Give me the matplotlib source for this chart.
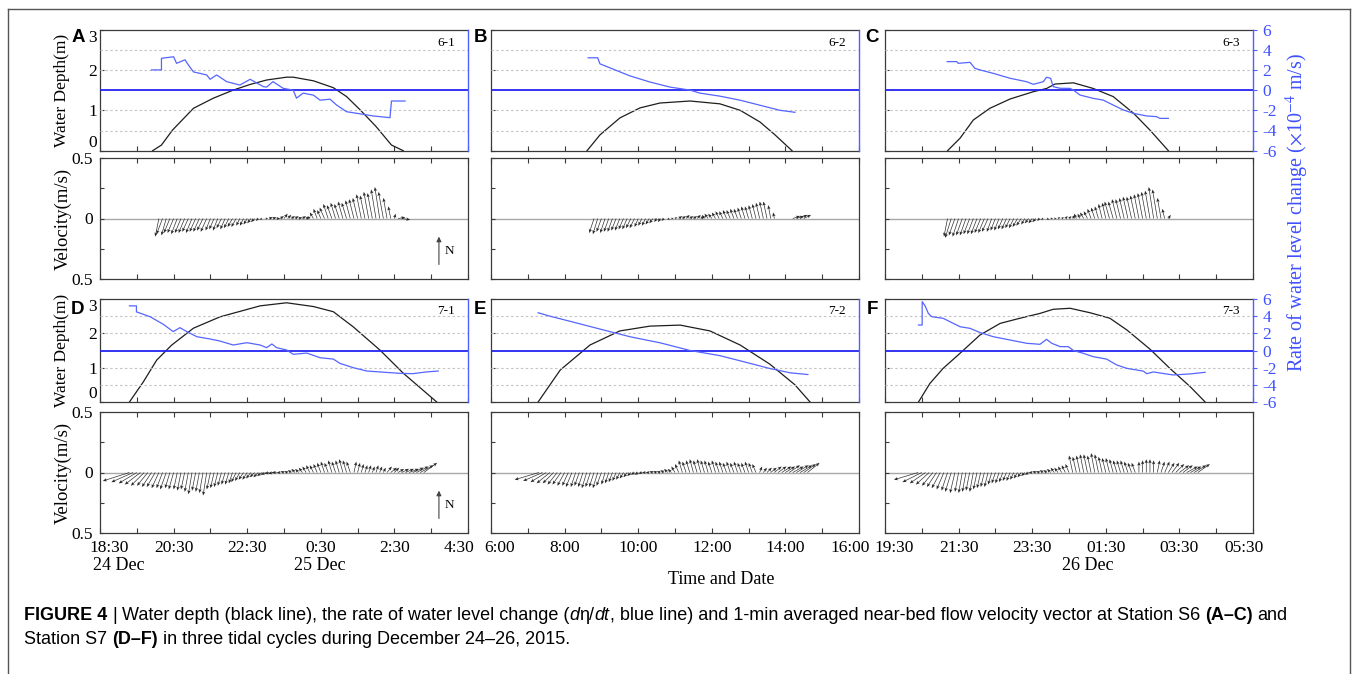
import numpy as np
import matplotlib
matplotlib.use("Agg")
import matplotlib.pyplot as plt
import matplotlib.transforms as mtrans
from matplotlib.ticker import FixedLocator
from matplotlib.lines import Line2D

nan = np.nan

# ---------------------------------------------------------------- data
PANEL_LETTERS = ["A", "B", "C", "D", "E", "F"]
CYCLE_NAMES = ["6-1", "6-2", "6-3", "7-1", "7-2", "7-3"]
TIME_TICKS = [0, 2, 4, 6, 8, 10]          # hours after axis start
TIME_MINOR = [1, 3, 5, 7, 9]
TICK_LABELS = [
    ["18:30", "20:30", "22:30", "0:30", "2:30", "4:30"],
    ["6:00", "8:00", "10:00", "12:00", "14:00", "16:00"],
    ["19:30", "21:30", "23:30", "01:30", "03:30", "05:30"],
]
DATE_LABELS = ["24 Dec", "25 Dec", "26 Dec"]
DEPTH_TICKS = [0, 1, 2, 3]
RATE_TICKS = [-6, -4, -2, 0, 2, 4, 6]
VEL_TICKS = [-0.5, 0, 0.5]
VEL_TICK_LABELS = ["0.5", "0", "0.5"]

# water depth (m) vs hours after axis start
DEPTH_T_A = [1.43, 1.67, 1.97, 2.54, 3.08, 3.62, 4.08, 4.53, 5.07, 5.25, 5.80, 6.34, 6.70, 7.07, 7.50, 7.92, 8.24]
DEPTH_A = [0.00, 0.14, 0.51, 1.05, 1.30, 1.50, 1.64, 1.75, 1.82, 1.82, 1.73, 1.56, 1.34, 1.01, 0.60, 0.14, 0.00]
DEPTH_T_B = [2.61, 2.96, 3.50, 4.05, 4.59, 5.41, 6.22, 6.77, 7.31, 7.72, 8.18]
DEPTH_B = [0.00, 0.39, 0.81, 1.06, 1.18, 1.23, 1.16, 1.00, 0.71, 0.39, 0.00]
DEPTH_T_C = [1.70, 2.04, 2.40, 2.85, 3.40, 4.03, 4.39, 4.62, 5.12, 5.66, 6.20, 6.75, 7.20, 7.70]
DEPTH_C = [0.00, 0.31, 0.76, 1.05, 1.28, 1.46, 1.54, 1.65, 1.68, 1.54, 1.34, 0.93, 0.51, 0.00]
DEPTH_T_D = [0.80, 1.18, 1.54, 1.95, 2.54, 3.26, 4.35, 5.07, 5.80, 6.34, 6.88, 7.61, 8.24, 9.15]
DEPTH_D = [0.00, 0.59, 1.22, 1.66, 2.15, 2.48, 2.80, 2.89, 2.78, 2.63, 2.19, 1.51, 0.84, 0.00]
DEPTH_T_E = [1.28, 1.88, 2.69, 3.50, 4.32, 5.14, 5.95, 6.77, 7.58, 8.26, 8.67]
DEPTH_E = [0.00, 0.93, 1.66, 2.07, 2.21, 2.24, 2.07, 1.66, 1.10, 0.50, 0.00]
DEPTH_T_F = [0.91, 1.22, 1.58, 2.04, 2.58, 3.13, 3.67, 4.21, 4.57, 5.03, 5.57, 6.11, 6.57, 7.20, 7.74, 8.29, 8.70]
DEPTH_F = [0.00, 0.54, 0.98, 1.42, 1.95, 2.29, 2.44, 2.58, 2.70, 2.73, 2.60, 2.44, 2.10, 1.54, 0.98, 0.45, 0.00]

# rate of water level change (1e-4 m/s)
RATE_T_A = [1.40, 1.67, 1.67, 2.00, 2.08, 2.31, 2.40, 2.54, 2.90, 2.99, 3.17, 3.44, 3.80, 4.08, 4.44, 4.53,
            4.70, 4.98, 5.25, 5.34, 5.52, 5.80, 5.98, 6.25, 6.43, 6.70, 6.98, 7.16, 7.42, 7.88, 7.92, 8.29]
RATE_A = [2.00, 2.00, 3.15, 3.30, 2.65, 3.00, 2.50, 1.80, 1.50, 1.07, 1.50, 0.84, 0.50, 1.07, 0.34, 0.30,
          0.84, 0.17, 0.00, -0.80, -0.30, -0.50, -1.00, -0.90, -1.48, -2.14, -2.30, -2.40, -2.56, -2.73, -1.08, -1.08]
RATE_T_B = [2.64, 2.90, 2.96, 3.37, 3.78, 4.32, 4.86, 5.41, 5.68, 6.22, 6.77, 7.31, 7.85, 8.26]
RATE_B = [3.2, 3.2, 2.6, 2.0, 1.4, 0.8, 0.3, 0.0, -0.3, -0.6, -1.0, -1.5, -2.0, -2.2]
RATE_T_C = [1.69, 1.95, 1.99, 2.31, 2.44, 2.58, 2.94, 3.40, 3.85, 4.03, 4.30, 4.39, 4.50, 4.57,
            4.76, 5.03, 5.12, 5.30, 5.66, 5.93, 6.20, 6.48, 6.75, 7.11, 7.38, 7.47, 7.70]
RATE_C = [2.82, 2.82, 2.65, 2.75, 2.16, 2.00, 1.66, 1.17, 0.83, 0.57, 0.83, 1.27, 1.17, 0.34,
          0.18, 0.17, 0.00, -0.49, -0.82, -0.99, -1.48, -1.97, -2.30, -2.56, -2.63, -2.80, -2.80]
RATE_T_D = [0.80, 0.99, 0.99, 1.36, 1.72, 1.99, 2.17, 2.36, 2.63, 2.99, 3.26, 3.62, 3.99, 4.35, 4.53,
            4.67, 4.80, 5.07, 5.25, 5.62, 5.98, 6.34, 6.52, 6.88, 7.25, 7.61, 8.15, 8.50, 8.86, 9.19]
RATE_D = [5.2, 5.2, 4.5, 3.94, 3.05, 2.2, 2.66, 2.2, 1.61, 1.34, 1.1, 0.64, 0.91, 0.64, 0.33,
          0.76, 0.33, 0.06, -0.44, -0.3, -0.84, -1.0, -1.5, -2.0, -2.39, -2.5, -2.66, -2.7, -2.5, -2.39]
RATE_T_E = [1.28, 1.60, 2.15, 2.96, 3.78, 4.59, 5.41, 5.68, 6.22, 6.77, 7.58, 8.13, 8.61]
RATE_E = [4.4, 4.0, 3.4, 2.5, 1.6, 0.9, 0.0, -0.2, -0.6, -1.2, -2.1, -2.6, -2.8]
RATE_T_F = [0.91, 1.01, 1.01, 1.09, 1.18, 1.27, 1.58, 2.04, 2.31, 2.58, 2.94, 3.40, 3.85, 4.21, 4.39,
            4.53, 4.76, 4.98, 5.12, 5.39, 5.66, 6.02, 6.30, 6.57, 7.02, 7.11, 7.29, 7.83, 8.29, 8.70]
RATE_F = [2.97, 2.97, 5.69, 5.2, 4.3, 3.94, 3.75, 2.77, 2.58, 2.1, 1.61, 1.22, 0.84, 0.72, 1.3,
          0.84, 0.45, 0.45, 0.0, -0.33, -0.72, -1.0, -1.69, -2.08, -2.4, -2.7, -2.5, -2.85, -2.73, -2.54]

# near-bed velocity vectors (cm/s), one every 0.1 h starting at VEL_T0
VEL_DT = 0.1
VEL_T0 = [1.6, 2.8, 1.7, 0.8, 1.3, 0.9]
VEL_V_A = [-15, -13, -14, -12, -12, -13, -12, -12, -11, -12,
           -11, -11, -10, -11, -10, -9, -10, -8, -9, -8,
           -7, -7, -6, -6, -5, -4, -3, -2, -1, 0,
           1, 1, 0, 2, 4, 3, 2, 2, 1, 2,
           1, 2, 5, 8, 7, 9, 12, 11, 13, 12,
           14, 13, 15, 16, 17, 20, 19, 22, 21, 24,
           26, 22, 17, 10, 4, 1, -1]
VEL_U_A = [-3, -5, -4, -5, -5, -5, -5, -5, -5, -5,
           -5, -5, -5, -5, -4, -4, -4, -4, -4, -4,
           -4, -4, -3, -3, -3, -3, -3, -2, -2, 2,
           3, 3, 3, 3, 3, 3, 3, 3, 3, 3,
           3, -2, -3, -3, -3, -4, -4, -4, -4, -4,
           -4, -4, -4, -4, -4, -4, -4, -4, -4, -4,
           -4, -4, -3, -2, 1, 6, 7]
VEL_V_B = [-12, -13, -11, -12, -11, -11, -10, -10, -9, -9,
           -8, -8, -7, -6, -6, -5, -4, -3, -3, -2,
           -1, 0, 1, 2, 2, 3, 2, 2, 3, 2,
           3, 4, 4, 5, 6, 6, 7, 7, 8, 8,
           9, 10, 10, 11, 12, 13, 14, 14, 11, 5,
           nan, nan, nan, nan, 2, 2, 3, 3]
VEL_U_B = [-4, -4, -4, -4, -4, -4, -4, -4, -4, -4,
           -4, -4, -3, -3, -3, -3, -3, -2, -2, -2,
           2, 2, 2, 3, 3, 3, 3, 3, 3, 3,
           -2, -3, -3, -3, -3, -3, -3, -3, -3, -3,
           -3, -3, -3, -3, -3, -3, -3, -3, -2, -1,
           nan, nan, nan, nan, 6, 6, 6, 6]
VEL_V_C = [-15, -16, -14, -15, -14, -14, -13, -13, -13, -12,
           -12, -11, -11, -10, -10, -9, -9, -8, -8, -7,
           -6, -5, -4, -4, -3, -2, -1, -1, 0, 0,
           1, 1, 2, 2, 3, 4, 4, 5, 6, 8,
           9, 10, 12, 13, 14, 14, 16, 16, 17, 18,
           18, 19, 20, 21, 22, 23, 26, 24, 17, 8,
           3]
VEL_U_C = [-3, -5, -5, -5, -5, -5, -5, -5, -5, -5,
           -5, -5, -4, -4, -4, -4, -4, -4, -4, -4,
           -4, -3, -3, -3, -3, -2, -2, 2, 2, 2,
           2, 2, 2, 2, 2, -2, -2, -3, -3, -3,
           -3, -3, -3, -3, -4, -4, -4, -4, -4, -4,
           -4, -4, -4, -4, -4, -4, -4, -4, -3, -2,
           2]
VEL_V_D = [-7, -8, -9, -10, -11, -11, -12, -12, -13, -13,
           -14, -13, -14, -14, -15, -14, -16, -18, -15, -16,
           -17, -19, -14, -13, -12, -11, -10, -10, -9, -8,
           -7, -6, -6, -5, -4, -4, -3, -2, -1, -1,
           0, 0, 1, 1, 2, 3, 3, 4, 5, 6,
           6, 7, 8, 9, 8, 10, 9, 10, 11, 10,
           9, 9, 8, 7, 6, 6, 5, 6, 5, 4,
           5, 4, 4, 3, 3, 3, 3, 4, 5, 6,
           8]
VEL_U_D = [-22, -18, -15, -13, -11, -9, -8, -7, -6, -5,
           -5, -4, -4, -3, -3, -3, -3, -3, -3, -3,
           -3, -3, -3, -3, -3, -3, -3, -3, -3, -4,
           -4, -4, -4, -4, -4, -4, -4, -4, -4, -4,
           -4, -3, -3, -3, -3, -3, -3, -3, -3, -3,
           -3, -3, -3, -3, -3, -3, -3, -3, -3, -3,
           -3, 2, 2, 2, 2, 2, 2, 2, 2, 2,
           4, 5, 4, 5, 6, 7, 8, 9, 10, 11,
           11]
VEL_V_E = [-6, -7, -8, -9, -9, -10, -10, -11, -11, -12,
           -12, -11, -12, -13, -12, -12, -13, -11, -10, -9,
           -8, -7, -6, -5, -4, -3, -2, -2, -1, 0,
           0, 1, 1, 1, 2, 3, 3, 5, 7, 10,
           9, 10, 11, 10, 11, 10, 10, 9, 10, 9,
           9, 8, 9, 8, 9, 8, 8, 9, 8, 7,
           5, 4, 4, 4, 5, 5, 5, 5, 6, 5,
           6, 6, 7, 8]
VEL_U_E = [-20, -16, -13, -11, -9, -8, -7, -6, -5, -5,
           -4, -4, -4, -4, -4, -4, -4, -4, -3, -3,
           -3, -3, -3, -3, -3, -3, -3, -3, -3, -3,
           -3, -3, -3, -3, -3, -3, -3, -3, -3, -3,
           -3, -3, -3, -3, -3, -3, -3, -3, -3, -3,
           -3, -3, -3, -3, -3, -3, -3, -3, -3, -3,
           2, 3, 4, 5, 6, 7, 8, 8, 9, 9,
           10, 10, 10, 10]
VEL_V_F = [-6, -8, -9, -10, -11, -12, -13, -14, -15, -16,
           -17, -16, -17, -16, -15, -16, -14, -13, -12, -12,
           -10, -9, -9, -8, -7, -7, -6, -5, -4, -3,
           -2, 0, 1, 1, 2, 2, 3, 4, 4, 5,
           6, 7, 14, 13, 14, 15, 15, 14, 16, 15,
           13, 12, 12, 11, 10, 10, 10, 9, 8, 8,
           9, 10, 11, 11, 10, 10, 9, 9, 8, 8,
           7, 6, 6, 5, 5, 6, 7]
VEL_U_F = [-20, -16, -13, -11, -9, -8, -7, -6, -5, -5,
           -4, -3, -3, -3, -3, -3, -3, -3, -3, -3,
           -3, -3, -3, -3, -3, -3, -3, -3, -3, -3,
           -3, -3, -3, -3, -3, -3, -3, -3, -3, -3,
           -3, -3, -3, -3, -3, -3, -3, -3, -3, -3,
           -3, -3, -3, -3, -3, -3, -3, -3, -3, -3,
           0, 0, 0, 0, 0, 2, 3, 4, 5, 6,
           7, 8, 8, 9, 9, 10, 10]

DEPTH_T = [DEPTH_T_A, DEPTH_T_B, DEPTH_T_C, DEPTH_T_D, DEPTH_T_E, DEPTH_T_F]
DEPTH = [DEPTH_A, DEPTH_B, DEPTH_C, DEPTH_D, DEPTH_E, DEPTH_F]
RATE_T = [RATE_T_A, RATE_T_B, RATE_T_C, RATE_T_D, RATE_T_E, RATE_T_F]
RATE = [RATE_A, RATE_B, RATE_C, RATE_D, RATE_E, RATE_F]
VEL_V = [VEL_V_A, VEL_V_B, VEL_V_C, VEL_V_D, VEL_V_E, VEL_V_F]
VEL_U = [VEL_U_A, VEL_U_B, VEL_U_C, VEL_U_D, VEL_U_E, VEL_U_F]

CAPTION_1 = [("FIGURE 4", "bold", "normal", True), ("|", "normal", "normal", True),
             ("Water depth (black line), the rate of water level change (", "normal", "normal", False),
             ("d", "normal", "italic", False), ("η/", "normal", "normal", False),
             ("dt", "normal", "italic", False),
             (", blue line) and 1-min averaged near-bed flow velocity vector at Station S6", "normal", "normal", True),
             ("(A–C)", "bold", "normal", True), ("and", "normal", "normal", False)]
CAPTION_2 = [("Station S7", "normal", "normal", True), ("(D–F)", "bold", "normal", True),
             ("in three tidal cycles during December 24–26, 2015.", "normal", "normal", False)]

# ---------------------------------------------------------------- style
plt.rcParams["font.family"] = ["Liberation Serif", "DejaVu Serif"]
plt.rcParams["mathtext.fontset"] = "stix"
plt.rcParams["axes.unicode_minus"] = False

W, H = 1358, 674
fig = plt.figure(figsize=(W / 100, H / 100), dpi=100)

SPINE = "#3a3a3a"
BLUE_ZERO = "#2424f0"
BLUE_LINE = "#5565ff"
BLUE_SPINE = "#5060ff"
BLUE_TEXT = "#3f50ff"
KX = 121.0 / 36.8   # hours of x-offset per m/s (equal pixel scale)
TICK_FS = 12.5

COL_X = [100, 491, 885]
LETTER_DX = [-22, -11, -13]
AX_W = 368
ROW_Y = [(29.5, 150.7, 158, 279), (299, 402, 412, 533)]
EDGE_SHIFT = 0.24   # hours: first / last time labels pushed inwards


def add_ax(x0, y0, x1, y1):
    return fig.add_axes([x0 / W, 1 - y1 / H, (x1 - x0) / W, (y1 - y0) / H])


def style_spines(ax):
    for s in ax.spines.values():
        s.set_color(SPINE)
        s.set_linewidth(0.9)


for i in range(6):
    r, c = divmod(i, 3)
    x0 = COL_X[c]
    yt0, yt1, yv0, yv1 = ROW_Y[r]

    # ---------------- depth + rate panel
    axt = add_ax(x0, yt0, x0 + AX_W, yt1)
    style_spines(axt)
    axt.spines["right"].set_visible(False)
    axt.set_xlim(0, 10)
    axt.set_ylim(0, 3)
    axt.set_xticks(range(0, 11))
    axt.tick_params(axis="x", direction="in", length=3.5, width=0.8, color=SPINE,
                    bottom=True, top=False, labelbottom=False)
    axt.set_yticks(DEPTH_TICKS)
    axt.tick_params(axis="y", direction="in", length=3, width=0.8, color=SPINE,
                    left=True, right=False, labelleft=(c == 0), labelsize=TICK_FS, pad=2)
    if c == 0:
        labs = axt.get_yticklabels()
        labs[0].set_va("bottom")
        labs[-1].set_va("top")
    axt.plot(DEPTH_T[i], DEPTH[i], color="#1e1e1e", lw=0.9, zorder=3)
    axt.text(0.965, 0.885, CYCLE_NAMES[i], transform=axt.transAxes, ha="right",
             va="center", fontsize=9.5)

    ax2 = axt.twinx()
    ax2.set_ylim(-6, 6)
    for s in ["left", "top", "bottom"]:
        ax2.spines[s].set_visible(False)
    ax2.spines["right"].set_color(BLUE_SPINE)
    ax2.spines["right"].set_linewidth(1.0)
    ax2.set_yticks(RATE_TICKS)
    if c == 2:
        ax2.tick_params(axis="y", direction="out", length=3, color=BLUE_SPINE,
                        labelcolor=BLUE_TEXT, labelsize=TICK_FS, pad=4)
    else:
        ax2.tick_params(axis="y", right=False, labelright=False)
    for g in RATE_TICKS[1:-1]:
        if g != 0:
            ax2.axhline(g, color="#c4c4c4", lw=0.8, ls=(0, (2.2, 2.2)), zorder=0)
    ax2.axhline(0, color=BLUE_ZERO, lw=1.3, zorder=2)
    ax2.plot(RATE_T[i], RATE[i], color=BLUE_LINE, lw=0.9, zorder=3)

    # ---------------- velocity panel
    axv = add_ax(x0, yv0, x0 + AX_W, yv1)
    style_spines(axv)
    axv.set_xlim(0, 10)
    axv.set_ylim(-0.5, 0.5)
    axv.axhline(0, color="#a8a8a8", lw=1.0, zorder=1)
    axv.xaxis.set_major_locator(FixedLocator(TIME_TICKS))
    axv.xaxis.set_minor_locator(FixedLocator(TIME_MINOR))
    axv.tick_params(axis="x", which="both", direction="in", top=True, bottom=True,
                    length=3.5, width=0.8, color=SPINE, labelbottom=False)
    if r == 1:
        bt = mtrans.blended_transform_factory(axv.transData, axv.transAxes)
        for k, (tv, lab) in enumerate(zip(TIME_TICKS, TICK_LABELS[c])):
            dx = EDGE_SHIFT if k == 0 else (-EDGE_SHIFT if k == len(TIME_TICKS) - 1 else 0.0)
            axv.text(tv + dx, -0.125, lab, transform=bt, ha="center", va="center",
                     fontsize=TICK_FS, clip_on=False)
    axv.yaxis.set_major_locator(FixedLocator(VEL_TICKS))
    axv.yaxis.set_minor_locator(FixedLocator([-0.25, 0.25]))
    axv.set_yticklabels(VEL_TICK_LABELS)
    axv.tick_params(axis="y", which="both", direction="in", left=True, right=False,
                    length=3, width=0.8, color=SPINE, labelsize=TICK_FS, pad=5,
                    labelleft=(c == 0))

    v = np.asarray(VEL_V[i], float) / 100.0
    u = np.asarray(VEL_U[i], float) / 100.0
    n = min(len(u), len(v))
    u, v = u[:n], v[:n]
    t = VEL_T0[i] + VEL_DT * np.arange(n)
    ok = ~(np.isnan(u) | np.isnan(v))
    axv.quiver(t[ok], np.zeros(ok.sum()), u[ok] * KX, v[ok], angles="xy",
               scale_units="xy", scale=1, color="#2a2a2a", width=0.0018,
               headwidth=5, headlength=6, headaxislength=5, zorder=3)

    if c == 0:
        axv.annotate("", xy=(0.921, -0.15), xytext=(0.921, -0.38),
                     xycoords=("axes fraction", "data"),
                     arrowprops=dict(arrowstyle="-|>", lw=0.8, color="#444",
                                     mutation_scale=7, shrinkA=0, shrinkB=0))
        nt = mtrans.blended_transform_factory(axv.transAxes, axv.transData)
        axv.text(0.948, -0.27, "N", transform=nt, ha="center", va="center", fontsize=9.5)

    # panel letter
    fig.text((x0 + LETTER_DX[c]) / W, 1 - (yt0 + 8 if r == 0 else yt0 + 10) / H,
             PANEL_LETTERS[i], family=["Liberation Sans", "DejaVu Sans"],
             fontweight="bold", fontsize=13.5, ha="center", va="center")

# axis titles
for yc in [(29.5 + 150.7) / 2, (299 + 402) / 2]:
    fig.text(62 / W, 1 - yc / H, "Water Depth(m)", rotation=90, ha="center",
             va="center", fontsize=12.5)
for yc in [(158 + 279) / 2, (412 + 533) / 2]:
    fig.text(63 / W, 1 - yc / H, "Velocity(m/s)", rotation=90, ha="center",
             va="center", fontsize=13.5)
fig.text(1297 / W, 1 - 212 / H, r"Rate of water level change ($\times$10$^{-4}$ m/s)",
         rotation=90, ha="center", va="center", fontsize=14.5, color=BLUE_TEXT)
fig.text(721 / W, 1 - 579 / H, "Time and Date", ha="center", va="center", fontsize=13)
fig.text(119 / W, 1 - 565 / H, DATE_LABELS[0], ha="center", va="center", fontsize=13)
fig.text(320 / W, 1 - 565 / H, DATE_LABELS[1], ha="center", va="center", fontsize=13)
fig.text(1088 / W, 1 - 565 / H, DATE_LABELS[2], ha="center", va="center", fontsize=13)

# outer frame
for xs, ys in [([8, 8], [9, 680]), ([1350, 1350], [9, 680]), ([8, 1350], [9, 9])]:
    fig.add_artist(Line2D([x / W for x in xs], [1 - y / H for y in ys],
                          transform=fig.transFigure, color="#555555", lw=1.0))

# caption (rich text)
CAP_FAM = ["Liberation Sans Narrow", "Liberation Sans", "DejaVu Sans"]
renderer = fig.canvas.get_renderer()


def measure(s, weight, style, size):
    t = fig.text(0, 0, s, fontsize=size, fontweight=weight, fontstyle=style, family=CAP_FAM)
    w = t.get_window_extent(renderer).width
    t.remove()
    return w


def rich_line(x_px, y_px, parts, size, draw=True):
    sp = measure("x x", "normal", "normal", size) - measure("xx", "normal", "normal", size)
    x = x_px
    for s, weight, style, space in parts:
        w = measure(s, weight, style, size)
        if draw:
            fig.text(x / W, 1 - y_px / H, s, fontsize=size, fontweight=weight,
                     fontstyle=style, family=CAP_FAM, ha="left", va="baseline")
        x += w + (sp if space else 0.0)
    return x - x_px


cap_size = 10.5
w1 = rich_line(24, 620, CAPTION_1, cap_size, draw=False)
if w1 > 0:
    cap_size = cap_size * 1272.0 / w1
rich_line(24, 620, CAPTION_1, cap_size)
rich_line(24, 644, CAPTION_2, cap_size)

fig.savefig("out.png", dpi=100)
